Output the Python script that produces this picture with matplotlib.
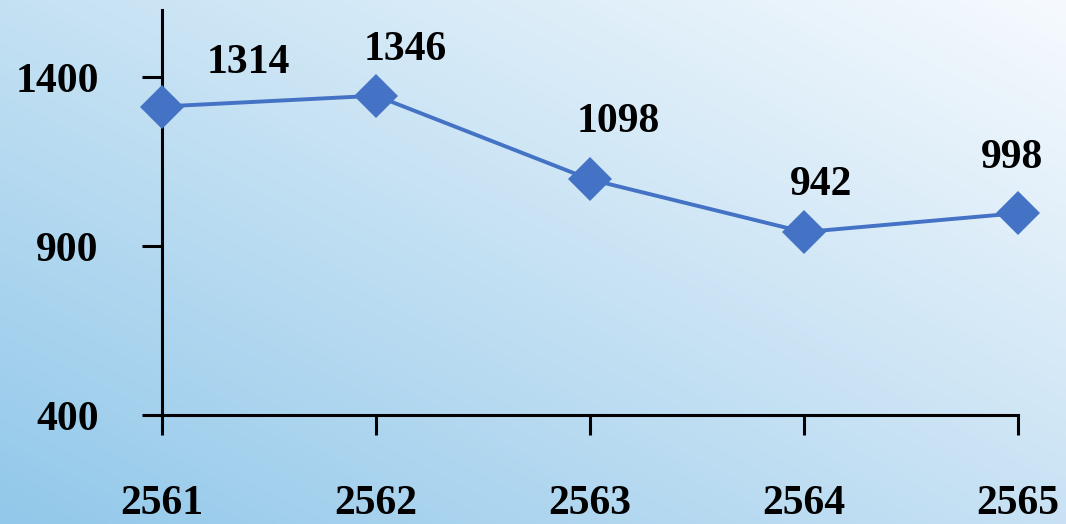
import numpy as np
import matplotlib.pyplot as plt

years = ["2561", "2562", "2563", "2564", "2565"]
values = [1314, 1346, 1098, 942, 998]
y_ticks = [400, 900, 1400]

# label offsets (points) from each marker
label_dx = [62, 21, 20, 12, -4]
label_dy = [31, 33, 41, 34, 40]

plt.rcParams["font.family"] = ["Liberation Serif", "DejaVu Serif"]
plt.rcParams["font.weight"] = "bold"

fig = plt.figure(figsize=(10.66, 5.24), dpi=100)

# gradient background
bg = fig.add_axes([0, 0, 1, 1], zorder=-1)
bg.axis("off")
gx, gy = np.meshgrid(np.linspace(0, 1, 200), np.linspace(0, 1, 200))
tl = np.array([196, 225, 243]) / 255
bl = np.array([146, 200, 234]) / 255
tr = np.array([246, 250, 254]) / 255
br = np.array([200, 226, 244]) / 255
img = (tl[None, None, :] * ((1 - gx) * (1 - gy))[..., None]
       + tr[None, None, :] * (gx * (1 - gy))[..., None]
       + bl[None, None, :] * ((1 - gx) * gy)[..., None]
       + br[None, None, :] * (gx * gy)[..., None])
bg.imshow(img, aspect="auto", extent=[0, 1, 0, 1])

ax = fig.add_axes([162 / 1066, 1 - 415 / 524, (1018 - 162) / 1066, 405 / 524])
ax.patch.set_alpha(0)
x = np.arange(len(years))
ax.plot(x, values, color="#4472C4", lw=2.8, marker="D", markersize=22,
        markeredgewidth=0, clip_on=False, zorder=3)

for xi, v, dx, dy in zip(x, values, label_dx, label_dy):
    ax.annotate(str(v), (xi, v), xytext=(dx, dy), textcoords="offset points",
                ha="center", va="center", fontsize=30, fontweight="bold")

ax.set_xlim(0, len(years) - 1)
ax.set_ylim(400, 1600)
ax.set_xticks(x)
ax.set_xticklabels(years)
ax.set_yticks(y_ticks)
for s in ["top", "right"]:
    ax.spines[s].set_visible(False)
for s in ["left", "bottom"]:
    ax.spines[s].set_linewidth(2.2)
ax.tick_params(axis="both", direction="out", length=14.5, width=2.2, labelsize=30)
ax.tick_params(axis="y", pad=31)
ax.tick_params(axis="x", pad=36)
for lbl in ax.get_xticklabels() + ax.get_yticklabels():
    lbl.set_fontweight("bold")

fig.savefig("out.png", dpi=100)
